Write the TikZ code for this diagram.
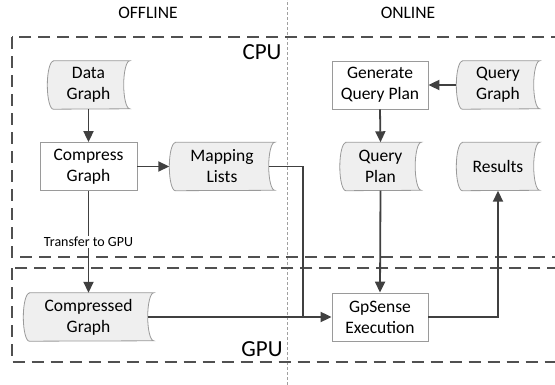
\documentclass[tikz,border=0pt]{standalone}
\usepackage{fontspec}
\setmainfont{Carlito}
\usetikzlibrary{arrows.meta,backgrounds}
\definecolor{lineC}{HTML}{404040}
\definecolor{boxC}{HTML}{505050}
\definecolor{tapeF}{HTML}{EFEFEF}
\definecolor{edgeC}{HTML}{9A9A9A}
\definecolor{sepC}{HTML}{A0A0A0}
\tikzset{
 txt/.style={font=\fontsize{17.5}{21}\selectfont, align=center, inner sep=0pt, minimum height=48pt},
 procbox/.style={txt, draw=edgeC, fill=white, line width=0.8pt},
 tapebox/.style={txt},
 tapeline/.style={draw=edgeC, fill=tapeF, line width=0.8pt},
 arr/.style={draw=lineC, line width=1.8pt, -{Triangle[length=11pt,width=10pt]}},
 conn/.style={draw=lineC, line width=1.8pt},
 region/.style={draw=boxC, line width=2pt, dash pattern=on 12pt off 7pt},
 title/.style={font=\fontsize{17.5}{21}\selectfont, inner sep=0pt},
 big/.style={font=\fontsize{23}{27}\selectfont, inner sep=0pt},
 lbl/.style={font=\fontsize{14}{16}\selectfont, fill=white, inner sep=1pt},
}
\newcommand\tapeoutline[1]{\path[tapeline] ([xshift=6pt]#1.north west) -- (#1.north east) arc[start angle=90,end angle=270,x radius=6pt,y radius=24pt] -- ([xshift=6pt]#1.south west) arc[start angle=270,end angle=90,x radius=6pt,y radius=24pt] -- cycle;}
\begin{document}
\begin{tikzpicture}[x=1pt,y=1pt]
\useasboundingbox (0,0) rectangle (555,385);
\clip (0,0) rectangle (555,385);
% separator
\draw[sepC, line width=0.6pt, dash pattern=on 3pt off 2pt] (287.7,0) -- (287.7,385);
% regions
\draw[region] (11.7,347.7) rectangle (600,128.3);
\draw[region] (11.7,116.7) rectangle (600,22.7);
% titles
\node[title] (off) at (148,372) {OFFLINE};
\node[title] (on) at (408,372) {ONLINE};
\node[big] (cpu) at (262,333) {CPU};
\node[big] (gpu) at (262,35.5) {GPU};
% nodes
\node[tapebox, minimum width=82pt] (dg) at (88.5,300) {Data\\Graph};
\node[procbox, minimum width=97pt] (cgr) at (88.5,218.5) {Compress\\Graph};
\node[tapebox, minimum width=105pt] (ml) at (222,218.5) {Mapping\\Lists};
\node[procbox, minimum width=96pt] (gqp) at (380,300) {Generate\\Query Plan};
\node[tapebox, minimum width=83pt] (qg) at (498,300) {Query\\Graph};
\node[tapebox, minimum width=81pt] (qp) at (380.5,218.5) {Query\\Plan};
\node[tapebox, minimum width=83pt] (res) at (498,218.5) {Results};
\node[tapebox, minimum width=130pt] (cmp) at (88.5,68) {Compressed\\Graph};
\node[procbox, minimum width=96pt] (gps) at (380,68) {GpSense\\Execution};
\coordinate (join) at (302.7,68);
\begin{pgfonlayer}{background}
\tapeoutline{dg}
\tapeoutline{ml}
\tapeoutline{qg}
\tapeoutline{qp}
\tapeoutline{res}
\tapeoutline{cmp}
\end{pgfonlayer}
% connectors
\draw[arr] (dg.south) -- (cgr.north);
\draw[arr] (cgr.east) -- (ml.west);
\draw[arr] (cgr.south) -- node[lbl] (tlab) {Transfer to GPU} (cmp.north);
\draw[conn] ([xshift=-6pt]ml.east) -| (join);
\draw[arr] ([xshift=-6pt]cmp.east) -- (gps.west);
\draw[arr] (qg.west) -- (gqp.east);
\draw[arr] (gqp.south) -- (qp.north);
\draw[arr] (qp.south) -- (gps.north);
\draw[arr] (gps.east) -| (res.south);
\end{tikzpicture}
\end{document}
